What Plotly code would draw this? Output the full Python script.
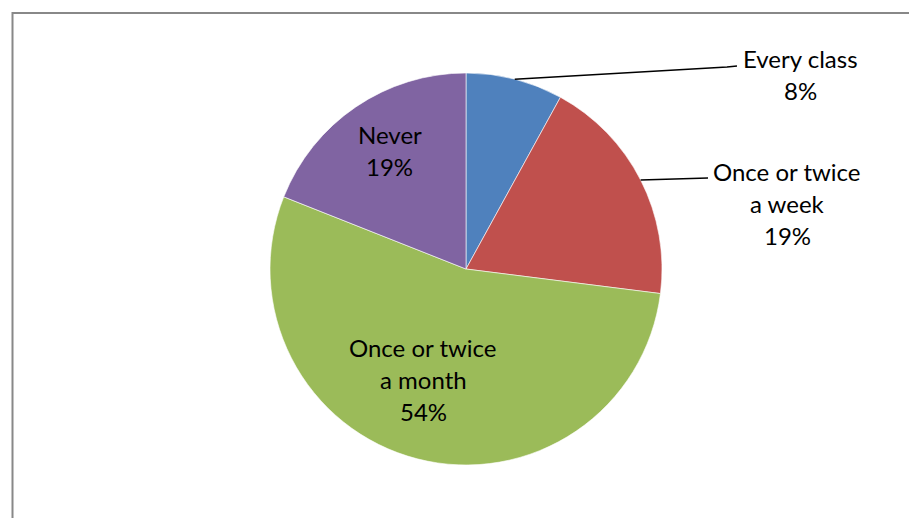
import math
import textwrap
import plotly.graph_objects as go

# Survey responses: how often the activity happens
categories = ["Every class", "Once or twice a week", "Once or twice a month", "Never"]
shares = [8, 19, 54, 19]
colors = ["#4F81BD", "#C0504D", "#9BBB59", "#8064A2"]

# Canvas and pie geometry (pixels)
W, H = 909, 518
CX, CY, R = 466, 269, 196
FONT = dict(family="Lato, 'Open Sans', sans-serif", size=24, color="#000000")
LINE_GAP = 32
TEXT_SHIFT = -1.5  # optical baseline correction for the label font

# Label placement: outside labels get a leader line, inside labels sit along the mid-angle
label_style = {
    "Every class": dict(center=(800, 76), leader=[(727, 67), (737, 66)]),
    "Once or twice a week": dict(center=(787, 205), leader=[(708, 178)]),
    "Once or twice a month": dict(radial=0.59, nudge=-14),
    "Never": dict(radial=0.72, nudge=3),
}


def px_to_paper(x, y):
    return x / W, 1 - y / H


total = sum(shares)
fig = go.Figure(
    go.Pie(
        labels=categories,
        values=shares,
        sort=False,
        direction="clockwise",
        rotation=0,
        marker=dict(colors=colors, line=dict(color="#FFFFFF", width=0.6)),
        textinfo="none",
        hoverinfo="label+percent",
        showlegend=False,
        domain=dict(
            x=[(CX - R) / W, (CX + R) / W],
            y=[1 - (CY + R) / H, 1 - (CY - R) / H],
        ),
    )
)

annotations = []
shapes = []
cum = 0
for name, val in zip(categories, shares):
    mid = (cum + val / 2) / total * 2 * math.pi  # clockwise from 12 o'clock
    cum += val
    style = label_style[name]
    lines = textwrap.wrap(name, 13) + [f"{round(val / total * 100)}%"]

    if "center" in style:
        bx, by = style["center"]
        # leader line from the slice edge at its mid-angle to the label
        ex, ey = CX + R * math.sin(mid), CY - R * math.cos(mid)
        pts = [(ex, ey)] + style["leader"]
        path = "M " + " L ".join(
            "{:.5f},{:.5f}".format(*px_to_paper(px, py)) for px, py in pts
        )
        shapes.append(
            dict(type="path", xref="paper", yref="paper", path=path,
                 line=dict(color="#000000", width=1.5))
        )
    else:
        rr = R * style["radial"]
        bx = CX + rr * math.sin(mid) + style["nudge"]
        by = CY - rr * math.cos(mid)

    n = len(lines)
    for i, line in enumerate(lines):
        ly = by + (i - (n - 1) / 2) * LINE_GAP + TEXT_SHIFT
        x, y = px_to_paper(bx, ly)
        annotations.append(
            dict(text=line, x=x, y=y, xref="paper", yref="paper",
                 xanchor="center", yanchor="middle", showarrow=False, font=FONT)
        )

# chart-area frame
x0, y0 = px_to_paper(12.5, 13)
shapes.append(
    dict(type="rect", xref="paper", yref="paper", x0=x0, y0=-0.05, x1=1.05, y1=y0,
         line=dict(color="#888888", width=2), fillcolor="rgba(0,0,0,0)", layer="below")
)

fig.update_layout(
    width=W,
    height=H,
    margin=dict(l=0, r=0, t=0, b=0),
    paper_bgcolor="#FFFFFF",
    plot_bgcolor="#FFFFFF",
    annotations=annotations,
    shapes=shapes,
)

fig.write_html("out.html")
